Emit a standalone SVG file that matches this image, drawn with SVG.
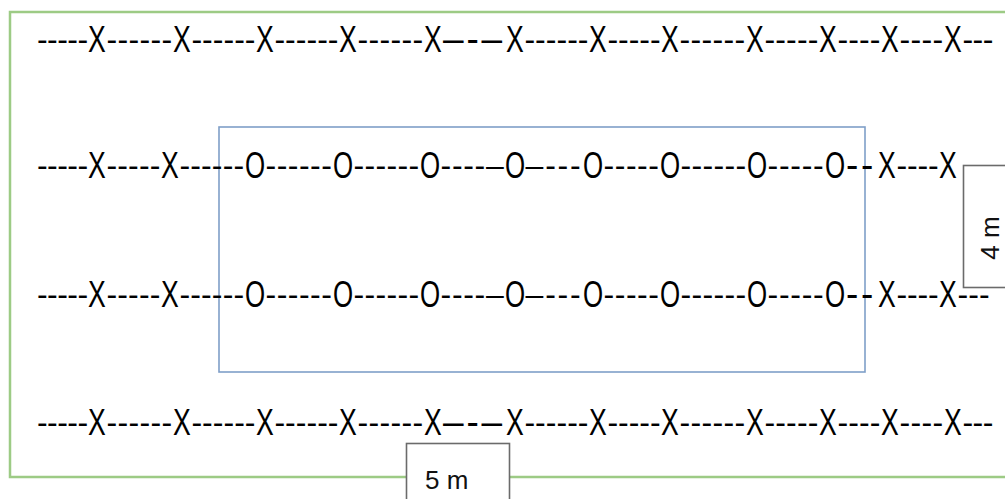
<svg xmlns="http://www.w3.org/2000/svg" width="1005" height="499" viewBox="0 0 1005 499">
<style>
.x{font-family:"Liberation Sans",Arial,sans-serif;font-size:37px;fill:#000;text-anchor:middle}
.d{font-family:"Liberation Sans",Arial,sans-serif;font-size:32px;fill:#000}
.e{font-family:"Liberation Sans",Arial,sans-serif;font-size:37px;fill:#000}
.lbl{font-family:"Liberation Sans",Arial,sans-serif;font-size:26px;fill:#111}
.box{fill:#fff;stroke:#6b6b6b;stroke-width:1.6}
</style>
<rect width="1005" height="499" fill="#fff"/>
<rect id="field" x="10" y="12" width="1010" height="465" fill="none" stroke="#9dcb85" stroke-width="2.5"/>
<rect id="plot" x="219" y="127" width="646" height="245" fill="none" stroke="#7f9fc8" stroke-width="1.6"/>

<g id="row1">
<text class="d" x="37" y="49.5" letter-spacing="-0.54">-----</text>
<text class="x" transform="translate(97 52) scale(0.72 1)">X</text>
<text class="d" x="106.4" y="49.5" letter-spacing="0.37">------</text>
<text class="x" transform="translate(182 52) scale(0.72 1)">X</text>
<text class="d" x="191.4" y="49.5" letter-spacing="0.04">------</text>
<text class="x" transform="translate(265 52) scale(0.72 1)">X</text>
<text class="d" x="274.4" y="49.5" letter-spacing="0.04">------</text>
<text class="x" transform="translate(348 52) scale(0.72 1)">X</text>
<text class="d" x="357.4" y="49.5" letter-spacing="0.37">------</text>
<text class="x" transform="translate(433 52) scale(0.72 1)">X</text>
<text class="e" x="443" y="51" letter-spacing="2.8">–-–</text>
<text class="x" transform="translate(515 52) scale(0.72 1)">X</text>
<text class="d" x="524.4" y="49.5" letter-spacing="0.04">------</text>
<text class="x" transform="translate(598 52) scale(0.72 1)">X</text>
<text class="d" x="607.4" y="49.5" letter-spacing="-0.02">-----</text>
<text class="x" transform="translate(670 52) scale(0.72 1)">X</text>
<text class="d" x="679.4" y="49.5" letter-spacing="0.37">------</text>
<text class="x" transform="translate(755 52) scale(0.72 1)">X</text>
<text class="d" x="764.4" y="49.5" letter-spacing="0.18">-----</text>
<text class="x" transform="translate(828 52) scale(0.72 1)">X</text>
<text class="d" x="837.4" y="49.5" letter-spacing="0.14">----</text>
<text class="x" transform="translate(890 52) scale(0.72 1)">X</text>
<text class="d" x="899.4" y="49.5" letter-spacing="0.39">----</text>
<text class="x" transform="translate(953 52) scale(0.72 1)">X</text>
<text class="d" x="962.4" y="49.5" letter-spacing="-0.46">---</text>
</g>

<g id="row2">
<text class="d" x="37" y="175.5" letter-spacing="-0.54">-----</text>
<text class="x" transform="translate(97 178) scale(0.72 1)">X</text>
<text class="d" x="106.4" y="175.5" letter-spacing="0.18">-----</text>
<text class="x" transform="translate(170 178) scale(0.72 1)">X</text>
<text class="d" x="179.4" y="175.5" letter-spacing="0.17">------</text>
<text class="x" transform="translate(255 178) scale(0.7 1)">O</text>
<text class="d" x="265.6" y="175.5" letter-spacing="0.47">------</text>
<text class="x" transform="translate(343 178) scale(0.7 1)">O</text>
<text class="d" x="353.6" y="175.5" letter-spacing="0.31">------</text>
<text class="x" transform="translate(430 178) scale(0.7 1)">O</text>
<text class="d" x="440.6" y="175.5" letter-spacing="0.68">----–</text>
<text class="x" transform="translate(515 178) scale(0.7 1)">O</text>
<text class="d" x="525.6" y="175.5" letter-spacing="1.75">–---</text>
<text class="x" transform="translate(593 178) scale(0.7 1)">O</text>
<text class="d" x="603.6" y="175.5" letter-spacing="0.5">-----</text>
<text class="x" transform="translate(670 178) scale(0.7 1)">O</text>
<text class="d" x="680.6" y="175.5" letter-spacing="0.31">------</text>
<text class="x" transform="translate(757 178) scale(0.7 1)">O</text>
<text class="d" x="767.6" y="175.5" letter-spacing="0.7">-----</text>
<text class="x" transform="translate(835 178) scale(0.7 1)">O</text>
<text class="e" x="846" y="177" letter-spacing="2.8" font-size="40">--</text>
<text class="x" transform="translate(887 178) scale(0.72 1)">X</text>
<text class="d" x="896.4" y="175.5" letter-spacing="-0.11">----</text>
<text class="x" transform="translate(948 178) scale(0.72 1)">X</text>
</g>

<g id="row3">
<text class="d" x="37" y="304.5" letter-spacing="-0.54">-----</text>
<text class="x" transform="translate(97 307) scale(0.72 1)">X</text>
<text class="d" x="106.4" y="304.5" letter-spacing="0.18">-----</text>
<text class="x" transform="translate(170 307) scale(0.72 1)">X</text>
<text class="d" x="179.4" y="304.5" letter-spacing="0.17">------</text>
<text class="x" transform="translate(255 307) scale(0.7 1)">O</text>
<text class="d" x="265.6" y="304.5" letter-spacing="0.47">------</text>
<text class="x" transform="translate(343 307) scale(0.7 1)">O</text>
<text class="d" x="353.6" y="304.5" letter-spacing="0.31">------</text>
<text class="x" transform="translate(430 307) scale(0.7 1)">O</text>
<text class="d" x="440.6" y="304.5" letter-spacing="0.68">----–</text>
<text class="x" transform="translate(515 307) scale(0.7 1)">O</text>
<text class="d" x="525.6" y="304.5" letter-spacing="1.75">–---</text>
<text class="x" transform="translate(593 307) scale(0.7 1)">O</text>
<text class="d" x="603.6" y="304.5" letter-spacing="0.5">-----</text>
<text class="x" transform="translate(670 307) scale(0.7 1)">O</text>
<text class="d" x="680.6" y="304.5" letter-spacing="0.31">------</text>
<text class="x" transform="translate(757 307) scale(0.7 1)">O</text>
<text class="d" x="767.6" y="304.5" letter-spacing="0.7">-----</text>
<text class="x" transform="translate(835 307) scale(0.7 1)">O</text>
<text class="e" x="846" y="306" letter-spacing="2.8" font-size="40">--</text>
<text class="x" transform="translate(887 307) scale(0.72 1)">X</text>
<text class="d" x="896.4" y="304.5" letter-spacing="-0.11">----</text>
<text class="x" transform="translate(948 307) scale(0.72 1)">X</text>
<text class="d" x="957.4" y="304.5" letter-spacing="0.21">---</text>
</g>

<g id="row4">
<text class="d" x="37" y="432.5" letter-spacing="-0.54">-----</text>
<text class="x" transform="translate(97 435) scale(0.72 1)">X</text>
<text class="d" x="106.4" y="432.5" letter-spacing="0.37">------</text>
<text class="x" transform="translate(182 435) scale(0.72 1)">X</text>
<text class="d" x="191.4" y="432.5" letter-spacing="0.04">------</text>
<text class="x" transform="translate(265 435) scale(0.72 1)">X</text>
<text class="d" x="274.4" y="432.5" letter-spacing="0.04">------</text>
<text class="x" transform="translate(348 435) scale(0.72 1)">X</text>
<text class="d" x="357.4" y="432.5" letter-spacing="0.37">------</text>
<text class="x" transform="translate(433 435) scale(0.72 1)">X</text>
<text class="e" x="443" y="434" letter-spacing="2.8">–-–</text>
<text class="x" transform="translate(515 435) scale(0.72 1)">X</text>
<text class="d" x="524.4" y="432.5" letter-spacing="0.04">------</text>
<text class="x" transform="translate(598 435) scale(0.72 1)">X</text>
<text class="d" x="607.4" y="432.5" letter-spacing="-0.02">-----</text>
<text class="x" transform="translate(670 435) scale(0.72 1)">X</text>
<text class="d" x="679.4" y="432.5" letter-spacing="0.37">------</text>
<text class="x" transform="translate(755 435) scale(0.72 1)">X</text>
<text class="d" x="764.4" y="432.5" letter-spacing="0.18">-----</text>
<text class="x" transform="translate(828 435) scale(0.72 1)">X</text>
<text class="d" x="837.4" y="432.5" letter-spacing="0.14">----</text>
<text class="x" transform="translate(890 435) scale(0.72 1)">X</text>
<text class="d" x="899.4" y="432.5" letter-spacing="0.39">----</text>
<text class="x" transform="translate(953 435) scale(0.72 1)">X</text>
<text class="d" x="962.4" y="432.5" letter-spacing="-0.46">---</text>
</g>

<g id="label-4m">
<rect class="box" x="963.5" y="165.5" width="60" height="122"/>
<text class="lbl" x="999" y="238" text-anchor="middle" transform="rotate(-90 999 238)">4 m</text>
</g>
<g id="label-5m">
<rect class="box" x="406.5" y="443.5" width="103" height="70"/>
<text class="lbl" x="425" y="489">5 m</text>
</g>
</svg>
